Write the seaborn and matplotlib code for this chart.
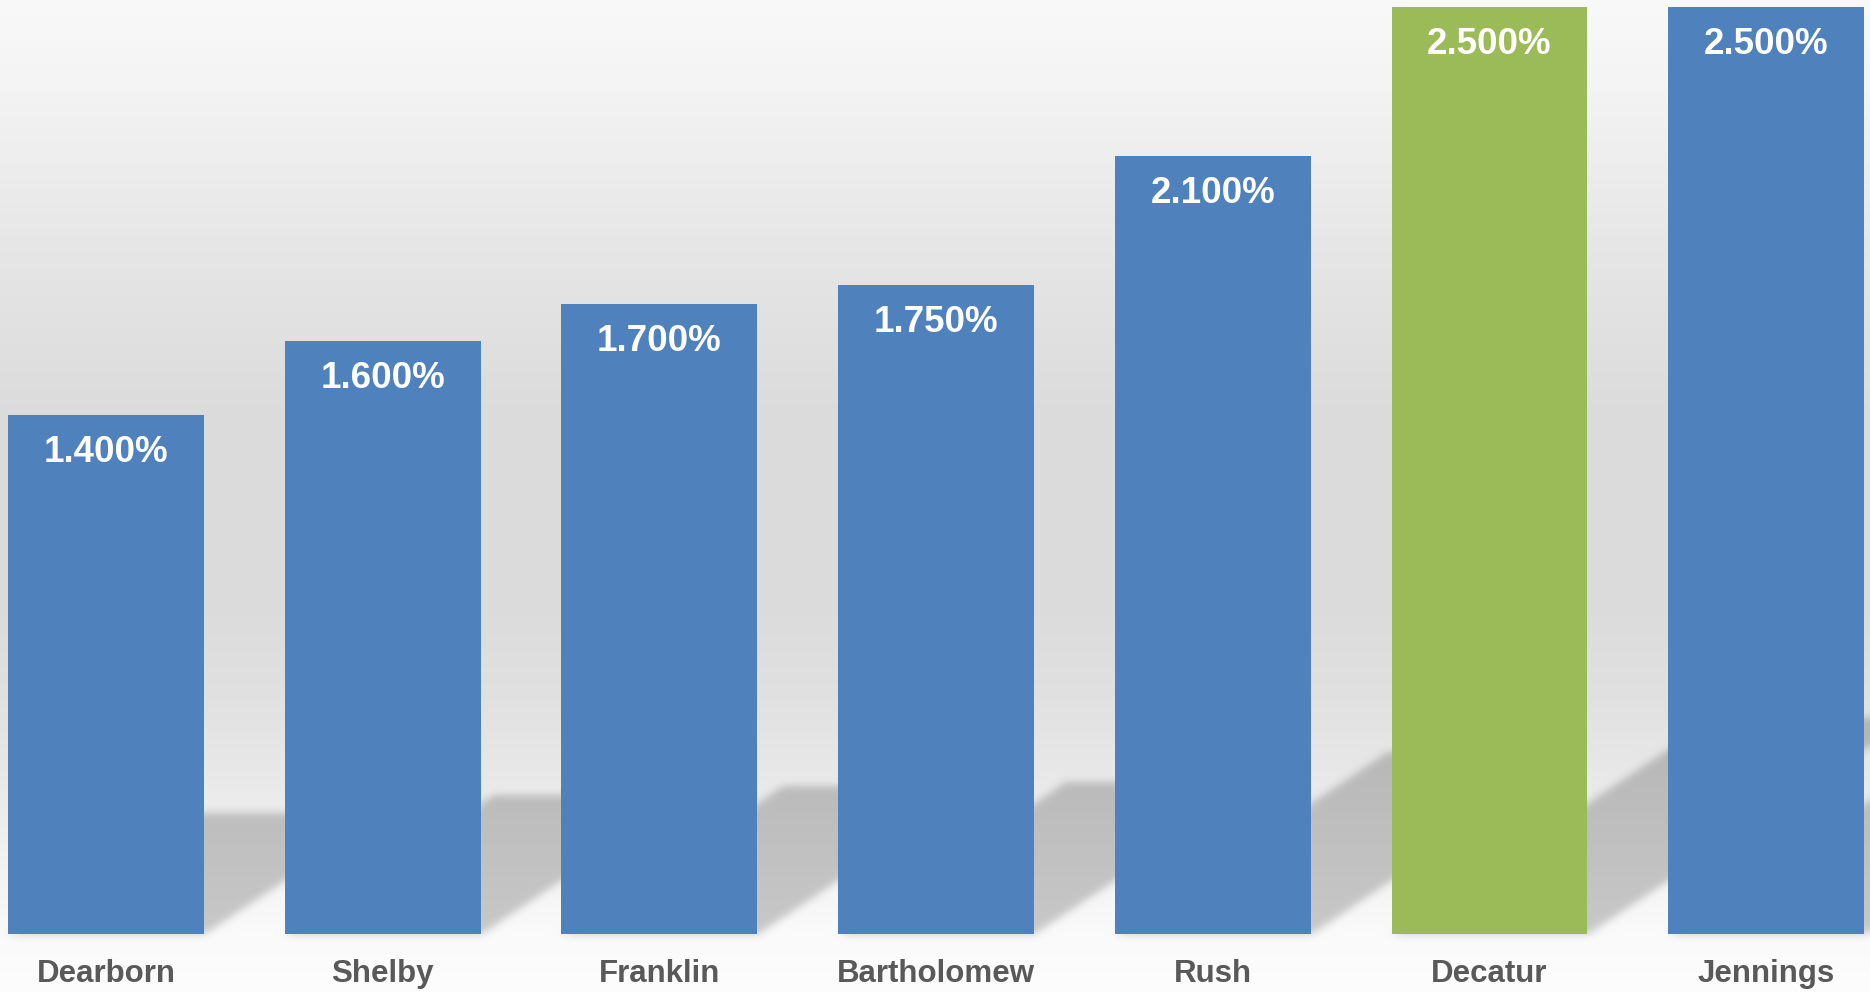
import numpy as np
import pandas as pd
import matplotlib
matplotlib.use("Agg")
import matplotlib.pyplot as plt
import seaborn as sns

# Unemployment rate by county
counties = ["Dearborn", "Shelby", "Franklin", "Bartholomew", "Rush", "Decatur", "Jennings"]
rates = [1.400, 1.600, 1.700, 1.750, 2.100, 2.500, 2.500]
highlight = "Decatur"

BLUE = "#4F81BD"
GREEN = "#9BBB59"
LABEL_GREY = "#595959"

sns.set_theme(style="white")
plt.rcParams["font.family"] = ["Liberation Sans", "DejaVu Sans"]

W, H = 1870, 992
DPI = 100
fig = plt.figure(figsize=(W / DPI, H / DPI), dpi=DPI)

# background canvas (gradient wall + floor shadows), drawn behind the chart
bg_ax = fig.add_axes([0, 0, 1, 1], zorder=0)
bg_ax.set_axis_off()

ax = fig.add_axes([0, 0.0585, 1, 0.9415], zorder=1)
ax.patch.set_alpha(0)

df = pd.DataFrame({"county": counties, "rate": rates})
palette = {c: (GREEN if c == highlight else BLUE) for c in counties}
sns.barplot(data=df, x="county", y="rate", hue="county", palette=palette,
            legend=False, width=0.708, saturation=1, ax=ax, linewidth=0)

ax.set_xlim(-0.383, 6.375)
ax.set_ylim(0, 2.52)
ax.set_yticks([])
ax.set_xlabel("")
ax.set_ylabel("")
for s in ax.spines.values():
    s.set_visible(False)
ax.tick_params(axis="x", length=0, pad=18, labelsize=22.5, labelcolor=LABEL_GREY)
for lab in ax.get_xticklabels():
    lab.set_fontweight("bold")

# value labels inside the top of each bar
for patch, val in zip(ax.patches, rates):
    cx = patch.get_x() + patch.get_width() / 2
    ax.annotate(f"{val:.3f}%", xy=(cx, val), xytext=(0, -27),
                textcoords="offset points", ha="center", va="center",
                color="white", fontsize=26.5, fontweight="bold")

# ---- background: vertical gray gradient ----
stops_row = [0, 80, 250, 420, 600, 700, 790, 870, 934, 992]
stops_val = [249, 244, 230, 219, 219, 225, 234, 243, 250, 253]
rows = np.arange(H)
col = np.interp(rows, stops_row, stops_val) / 255.0
img = np.repeat(col[:, None], W, axis=1)

# ---- floor shadows cast by each bar (sheared parallelograms) ----
yy, xx = np.mgrid[0:H, 0:W]
mask = np.zeros((H, W))
for patch in ax.patches:
    x0d, y0d = ax.transData.transform((patch.get_x(), 0))
    x1d, y1d = ax.transData.transform((patch.get_x() + patch.get_width(), patch.get_height()))
    base_row = H - y0d
    bar_h = y1d - y0d
    sh = 0.235 * bar_h          # shadow depth
    shift = sh / 0.67           # horizontal skew of the shadow
    t = base_row - yy           # height above baseline
    inside = (t >= 0) & (t <= sh)
    off = np.where(inside, t * shift / max(sh, 1e-6), 0)
    inside &= (xx >= x0d + off) & (xx <= x1d + off)
    mask = np.maximum(mask, inside.astype(float))

# soft edges via separable gaussian blur
sigma = 4.0
k = np.arange(-12, 13)
kern = np.exp(-0.5 * (k / sigma) ** 2)
kern /= kern.sum()
def blur(a, axis):
    out = np.zeros_like(a)
    pad = [(0, 0), (0, 0)]
    pad[axis] = (12, 12)
    ap = np.pad(a, pad, mode="edge")
    n = a.shape[axis]
    for i, w in enumerate(kern):
        sl = [slice(None), slice(None)]
        sl[axis] = slice(i, i + n)
        out += w * ap[tuple(sl)]
    return out
mask = blur(blur(mask, 0), 1)

img = img * (1 - 0.2 * mask)
rgb = np.dstack([img, img, img])
bg_ax.imshow(rgb, extent=[0, W, H, 0], aspect="auto", interpolation="bilinear")
bg_ax.set_xlim(0, W)
bg_ax.set_ylim(H, 0)

fig.savefig("out.png", dpi=DPI)
